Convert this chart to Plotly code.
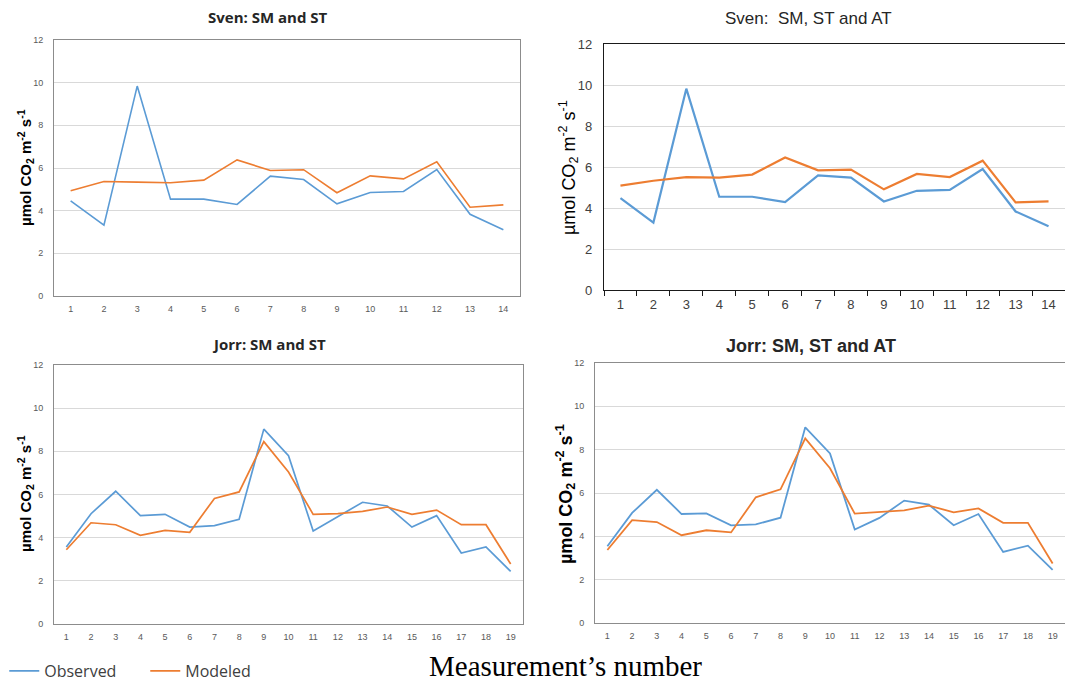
import plotly.graph_objects as go

# ---------------- data ----------------
sven_x = [str(i) for i in range(1, 15)]
jorr_x = [str(i) for i in range(1, 20)]

sven_st_obs = [4.46, 3.32, 9.84, 4.54, 4.54, 4.29, 5.62, 5.46, 4.32, 4.85, 4.90, 5.93, 3.83, 3.11]
sven_st_mod = [4.93, 5.37, 5.34, 5.31, 5.43, 6.38, 5.88, 5.92, 4.84, 5.63, 5.49, 6.29, 4.16, 4.27]

sven_at_obs = [4.48, 3.29, 9.82, 4.55, 4.55, 4.29, 5.59, 5.48, 4.32, 4.84, 4.88, 5.90, 3.83, 3.11]
sven_at_mod = [5.09, 5.33, 5.51, 5.48, 5.63, 6.46, 5.84, 5.87, 4.91, 5.66, 5.51, 6.31, 4.27, 4.32]

jorr_st_obs = [3.57, 5.11, 6.15, 5.02, 5.08, 4.49, 4.56, 4.85, 9.03, 7.80, 4.31, 4.96, 5.64, 5.47,
               4.49, 5.02, 3.29, 3.57, 2.44]
jorr_st_mod = [3.44, 4.69, 4.60, 4.11, 4.34, 4.25, 5.82, 6.12, 8.45, 7.04, 5.08, 5.11, 5.22, 5.42,
               5.08, 5.28, 4.60, 4.60, 2.78]

jorr_at_obs = [3.54, 5.08, 6.15, 5.03, 5.06, 4.51, 4.55, 4.86, 9.03, 7.83, 4.31, 4.85, 5.65, 5.46,
               4.51, 5.03, 3.28, 3.57, 2.45]
jorr_at_mod = [3.37, 4.75, 4.66, 4.05, 4.28, 4.18, 5.80, 6.17, 8.52, 7.14, 5.05, 5.11, 5.20, 5.42,
               5.11, 5.29, 4.62, 4.62, 2.75]

y_ticks = [0, 2, 4, 6, 8, 10, 12]
titles = ["Sven: SM and ST", "Sven:  SM, ST and AT", "Jorr: SM and ST", "Jorr: SM, ST and AT"]
series_names = ["Observed", "Modeled"]
y_title = "µmol CO<sub>2</sub> m<sup>-2</sup> s<sup>-1</sup>"
x_title = "Measurement’s number"

BLUE = "#5B9BD5"
ORANGE = "#ED7D31"
W, H = 1065, 682

def px_x(p):
    return p / W

def px_y(p):
    return 1 - p / H

fig = go.Figure()

panels = [
    dict(x=sven_x, obs=sven_st_obs, mod=sven_st_mod, dom_x=(54, 520), dom_y=(40, 296), lw=1.6),
    dict(x=sven_x, obs=sven_at_obs, mod=sven_at_mod, dom_x=(604, 1065), dom_y=(44, 290), lw=2.2),
    dict(x=jorr_x, obs=jorr_st_obs, mod=jorr_st_mod, dom_x=(54, 523), dom_y=(365, 624), lw=1.7),
    dict(x=jorr_x, obs=jorr_at_obs, mod=jorr_at_mod, dom_x=(595, 1065), dom_y=(363, 623), lw=1.8),
]

for i, p in enumerate(panels):
    k = "" if i == 0 else str(i + 1)
    show = i == 0
    fig.add_trace(go.Scatter(x=p["x"], y=p["obs"], mode="lines", name=series_names[0],
                             line=dict(color=BLUE, width=p["lw"]), xaxis="x" + k, yaxis="y" + k,
                             showlegend=show, legendgroup="obs"))
    fig.add_trace(go.Scatter(x=p["x"], y=p["mod"], mode="lines", name=series_names[1],
                             line=dict(color=ORANGE, width=p["lw"]), xaxis="x" + k, yaxis="y" + k,
                             showlegend=show, legendgroup="mod"))

layout = dict(
    width=W, height=H,
    margin=dict(l=0, r=0, t=0, b=0, autoexpand=False),
    paper_bgcolor="white", plot_bgcolor="white",
    showlegend=True,
    legend=dict(orientation="h", x=0.004, xanchor="left", y=px_y(671), yanchor="middle",
                font=dict(family="Open Sans", size=16, color="#404040"),
                itemwidth=30, entrywidth=96, tracegroupgap=0, bgcolor="rgba(0,0,0,0)"),
)

for i, p in enumerate(panels):
    k = "" if i == 0 else str(i + 1)
    n = len(p["x"])
    big = i == 1
    line_col = "#1a1a1a" if big else "#8c8c8c"
    tick_font = dict(family="Liberation Sans", size=13 if big else 9, color="#404040" if big else "#595959")
    layout["xaxis" + k] = dict(
        domain=[px_x(p["dom_x"][0]), px_x(p["dom_x"][1])],
        anchor="y" + k, type="category", range=[-0.5, n - 0.5],
        showgrid=False, showline=True, linecolor=line_col, linewidth=1.3 if big else 1,
        mirror=True, ticks="outside" if big else "", ticklen=5, tickcolor=line_col,
        tickson="boundaries", tickfont=tick_font, fixedrange=True,
        ticklabelstandoff=2 if big else 4,
    )
    layout["yaxis" + k] = dict(
        domain=[px_y(p["dom_y"][1]), px_y(p["dom_y"][0])],
        anchor="x" + k, range=[0, 12], tickvals=y_ticks,
        showgrid=True, gridcolor="#d9d9d9", gridwidth=1,
        showline=True, linecolor=line_col, linewidth=1.3 if big else 1, mirror=True,
        zeroline=False, ticks="", tickfont=tick_font, fixedrange=True,
        ticklabelstandoff=8,
    )

fig.update_layout(**layout)

# subplot titles
title_specs = [
    (268, 17, dict(family="Open Sans", size=15, color="#262626"), True),
    (808, 19, dict(family="Liberation Sans", size=17, color="#262626"), False),
    (269, 344, dict(family="Open Sans", size=15, color="#262626"), True),
    (811, 346, dict(family="Liberation Sans", size=18, color="#262626"), True),
]
for (cx, cy, f, bold), t in zip(title_specs, titles):
    fig.add_annotation(text=("<b>%s</b>" % t) if bold else t, x=px_x(cx), y=px_y(cy),
                       xref="paper", yref="paper", showarrow=False, font=f,
                       xanchor="center", yanchor="middle")

# y-axis titles
ytitle_specs = [
    (25, 168, 15, True),
    (568, 168, 18, False),
    (25, 494, 15, True),
    (565, 494, 18, True),
]
for cx, cy, sz, bold in ytitle_specs:
    fig.add_annotation(text=("<b>%s</b>" % y_title) if bold else y_title, x=px_x(cx), y=px_y(cy),
                       xref="paper", yref="paper", showarrow=False, textangle=-90,
                       font=dict(family="Liberation Sans", size=sz, color="black"),
                       xanchor="center", yanchor="middle")

# common x title
fig.add_annotation(text=x_title, x=px_x(565), y=px_y(666), xref="paper", yref="paper",
                   showarrow=False, font=dict(family="Liberation Serif", size=29, color="black"),
                   xanchor="center", yanchor="middle")

fig.write_html("out.html")
